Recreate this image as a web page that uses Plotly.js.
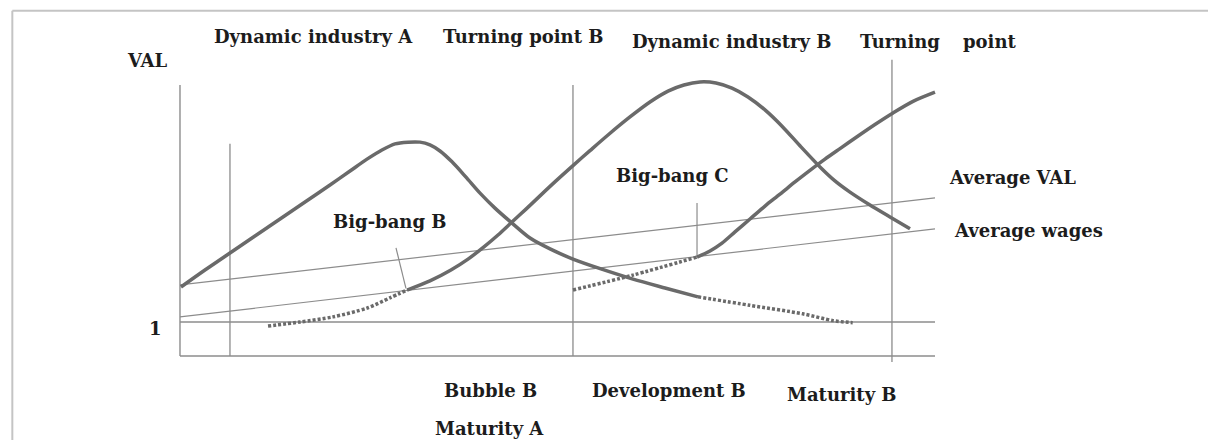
<!DOCTYPE html>
<html>
<head>
<meta charset="utf-8">
<script src="https://cdn.plot.ly/plotly-3.0.1.min.js"></script>
<style>html,body{margin:0;padding:0;background:#fff;}#chart{width:1208px;height:440px;}</style>
</head>
<body>
<div id="chart"></div>
<script>
// ---- Curve data (time units on x, VAL ratio on y; "1" line = 1) ----
// Dynamic industry A: solid part
const curveA_x = [0.13, 3.31, 6.62, 9.93, 13.25, 16.56, 19.87, 22.52, 24.77, 26.75, 28.48, 30.2, 31.79, 33.11, 34.44, 36.03, 37.88, 39.74, 41.72, 43.97, 46.36, 49.01, 52.05, 55.76, 60.0, 64.24, 68.61];
const curveA_y = [2.03, 2.53, 3.03, 3.53, 4.03, 4.53, 5.03, 5.44, 5.79, 6.06, 6.24, 6.29, 6.29, 6.21, 6.03, 5.71, 5.26, 4.79, 4.35, 3.91, 3.47, 3.15, 2.85, 2.56, 2.26, 2.0, 1.74];
// Dynamic industry A: dotted decline
const curveA_dot_x = [68.61, 75.5, 82.5, 86.5, 89.1];
const curveA_dot_y = [1.74, 1.49, 1.24, 1.04, 0.98];
// Dynamic industry B: dotted start (before Big-bang B)
const curveB_dot_x = [11.66, 15.89, 20.26, 24.77, 27.81, 30.07];
const curveB_dot_y = [0.88, 1.0, 1.15, 1.41, 1.71, 1.94];
// Dynamic industry B: solid part
const curveB_x = [30.07, 33.11, 35.89, 38.15, 40.26, 42.12, 43.97, 45.83, 47.68, 49.8, 52.05, 54.3, 56.69, 59.6, 62.25, 64.64, 66.75, 68.87, 70.99, 73.11, 75.23, 77.48, 79.74, 82.25, 84.9, 86.75, 88.74, 91.39, 94.04, 96.69];
const curveB_y = [1.94, 2.21, 2.53, 2.85, 3.21, 3.56, 3.94, 4.32, 4.71, 5.15, 5.60, 6.04, 6.50, 7.03, 7.47, 7.79, 7.97, 8.06, 8.03, 7.88, 7.62, 7.24, 6.76, 6.15, 5.53, 5.15, 4.82, 4.44, 4.09, 3.74];
// Dynamic industry C: dotted start (before Big-bang C)
const curveC_dot_x = [52.05, 60.0, 68.48];
const curveC_dot_y = [1.94, 2.38, 2.91];
// Dynamic industry C: solid part
const curveC_x = [68.48, 70.2, 71.79, 73.51, 75.5, 77.48, 79.47, 81.46, 83.44, 85.43, 87.42, 89.67, 92.05, 94.44, 97.09, 100];
const curveC_y = [2.91, 3.09, 3.32, 3.65, 4.03, 4.41, 4.76, 5.12, 5.46, 5.79, 6.10, 6.45, 6.81, 7.15, 7.49, 7.76];

// ---- Reference lines ----
const avgVAL_x = [0, 100];
const avgVAL_y = [2.09, 4.65];
const avgWages_x = [0, 100];
const avgWages_y = [1.15, 3.74];
const oneLine_x = [0, 100];
const oneLine_y = [1, 1];
const xAxis_x = [0, 100];
const xAxis_y = [0, 0];
const yAxis_x = [0, 0];
const yAxis_y = [0, 7.97];
// vertical phase boundaries
const vLines_x = [6.62, 52.05, 94.3];
const vLines_bottom = [0, 0, -0.18];
const vLines_top = [6.24, 7.97, 8.71];
// Big-bang pointers
const ptrB_x = [28.61, 29.93];
const ptrB_y = [3.18, 1.99];
const ptrC_x = [68.48, 68.48];
const ptrC_y = [4.5, 2.91];

// ---- Labels ----
const labelTexts = ["Dynamic industry A", "Turning point B", "Dynamic industry B", "Turning", "point", "VAL",
  "Big-bang B", "Big-bang C", "Average VAL", "Average wages", "1",
  "Bubble B", "Development B", "Maturity B", "Maturity A"];
const labelX = [17.62, 45.56, 73.05, 95.43, 107.35, -4.3, 27.75, 65.23, 110.2, 112.32, -3.18, 41.06, 64.77, 87.62, 40.99];
const labelY = [9.41, 9.41, 9.26, 9.26, 9.26, 8.68, 3.97, 5.32, 5.26, 3.68, 0.82, -1.0, -1.0, -1.12, -2.12];

const thick = '#6a6a6a';
const thin = '#8c8c8c';
const traces = [];
function addLine(x, y, color, width, dash, shape) {
  traces.push({x: x, y: y, mode: 'lines', hoverinfo: 'skip', showlegend: false,
    line: {color: color, width: width, dash: dash || 'solid', shape: shape || 'linear', smoothing: 0.8}});
}
addLine(xAxis_x, xAxis_y, thin, 1.4);
addLine(yAxis_x, yAxis_y, thin, 1.4);
addLine(oneLine_x, oneLine_y, thin, 1.3);
for (let i = 0; i < vLines_x.length; i++) {
  addLine([vLines_x[i], vLines_x[i]], [vLines_bottom[i], vLines_top[i]], thin, 1.3);
}
addLine(avgVAL_x, avgVAL_y, thin, 1.2);
addLine(avgWages_x, avgWages_y, thin, 1.2);
addLine(ptrB_x, ptrB_y, thin, 1.2);
addLine(ptrC_x, ptrC_y, thin, 1.2);
addLine(curveA_dot_x, curveA_dot_y, thick, 3.5, '3px,2px', 'spline');
addLine(curveB_dot_x, curveB_dot_y, thick, 3.5, '3px,2px', 'spline');
addLine(curveC_dot_x, curveC_dot_y, thick, 3.5, '3px,2px', 'spline');
addLine(curveA_x, curveA_y, thick, 3.5, 'solid', 'spline');
addLine(curveB_x, curveB_y, thick, 3.5, 'solid', 'spline');
addLine(curveC_x, curveC_y, thick, 3.5, 'solid', 'spline');

const annotations = labelTexts.map((t, i) => ({
  x: labelX[i], y: labelY[i], xref: 'x', yref: 'y', text: '<b>' + t + '</b>',
  showarrow: false, xanchor: 'center', yanchor: 'middle',
  font: {family: 'DejaVu Serif, serif', size: 18, color: '#1c1c1c'}
}));

const layout = {
  width: 1208, height: 440,
  margin: {l: 0, r: 0, t: 0, b: 0, pad: 0},
  paper_bgcolor: '#ffffff', plot_bgcolor: '#ffffff',
  showlegend: false,
  xaxis: {range: [-23.84, 136.16], visible: false, fixedrange: true},
  yaxis: {range: [-2.4706, 10.4706], visible: false, fixedrange: true},
  annotations: annotations,
  shapes: [
    {type: 'line', xref: 'paper', yref: 'paper', x0: 0.0102, x1: 0.0102, y0: 0, y1: 0.9757, line: {color: '#c4c4c4', width: 2}},
    {type: 'line', xref: 'paper', yref: 'paper', x0: 0.0102, x1: 1, y0: 0.9757, y1: 0.9757, line: {color: '#c4c4c4', width: 2}}
  ]
};
Plotly.newPlot('chart', traces, layout, {displayModeBar: false, staticPlot: true});
</script>
</body>
</html>
